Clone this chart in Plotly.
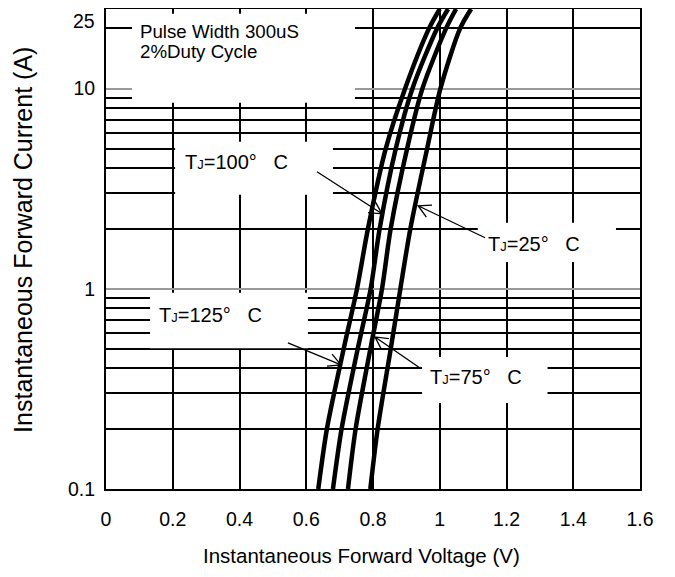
import numpy as np
import plotly.graph_objects as go

# ---------------- data ----------------
current_a = [0.1, 0.2, 0.5, 1, 2, 5, 10, 20, 25]
vf_125c = [0.636, 0.662, 0.712, 0.752, 0.785, 0.838, 0.896, 0.968, 1.000]
vf_100c = [0.680, 0.706, 0.754, 0.793, 0.820, 0.868, 0.918, 0.992, 1.025]
vf_75c = [0.725, 0.748, 0.792, 0.827, 0.853, 0.902, 0.948, 1.019, 1.049]
vf_25c = [0.792, 0.814, 0.853, 0.882, 0.912, 0.962, 1.002, 1.061, 1.094]

y_tick_vals = [0.1, 1, 10]
y_tick_text = ["0.1", "1", "10"]
y_top_label = "25"

# label texts
note_lines = ["Pulse Width 300uS", "2%Duty Cycle"]
curve_labels = ["100", "25", "125", "75"]

# ---------------- layout helpers ----------------
FONT = "Arial, 'Liberation Sans', sans-serif"
FS = 20

# white label boxes (V range, I range)
boxes = [
    ((0.078, 0.746), (8.5, 23.7)),
    ((0.207, 0.680), (2.95, 5.43)),
    ((1.114, 1.528), (1.36, 2.14)),
    ((0.132, 0.605), (0.505, 0.955)),
    ((0.947, 1.323), (0.269, 0.457)),
]
# label anchor (left V, log10 I center)
label_pos = [(0.231, 0.6325), (1.139, 0.225), (0.153, -0.133), (0.965, -0.4425)]
# arrow tip (V, I) and tail offset in screen px
arrow_tips = [(0.827, 2.37), (0.935, 2.60), (0.704, 0.417), (0.806, 0.575)]
arrow_tails = [(-65, -42), (67, 32), (-53, -22), (45, 31)]


def arrow_path(dx, dy, L=14.0, ang=28.0):
    n = np.hypot(dx, dy)
    ux, uy = dx / n, dy / n
    arms = []
    for s in (1, -1):
        a = np.radians(ang * s)
        rx = ux * np.cos(a) - uy * np.sin(a)
        ry = ux * np.sin(a) + uy * np.cos(a)
        arms.append((L * rx, L * ry))
    return (f"M {dx:.2f},{-dy:.2f} L 0,0 "
            f"M {arms[0][0]:.2f},{-arms[0][1]:.2f} L 0,0 L {arms[1][0]:.2f},{-arms[1][1]:.2f}")


fig = go.Figure()
for v in (vf_125c, vf_100c, vf_75c, vf_25c):
    fig.add_trace(go.Scatter(x=v, y=current_a, mode="lines",
                             line=dict(color="black", width=4.5, shape="spline", smoothing=0.8),
                             showlegend=False, hoverinfo="skip"))

shapes = []
for (x0, x1), (y0, y1) in boxes:
    shapes.append(dict(type="rect", xref="x", yref="y", x0=x0, x1=x1, y0=y0, y1=y1,
                       fillcolor="white", line=dict(width=0), layer="between"))
for (vx, iy), (dx, dy) in zip(arrow_tips, arrow_tails):
    shapes.append(dict(type="path", xref="x", yref="y", xsizemode="pixel", ysizemode="pixel",
                       xanchor=vx, yanchor=iy, path=arrow_path(dx, dy),
                       line=dict(color="black", width=1.3), layer="above"))

annotations = []
annotations.append(dict(x=0.096, y=1.2875, xref="x", yref="y", text=note_lines[0],
                        showarrow=False, xanchor="left", yanchor="middle",
                        font=dict(family=FONT, size=18.7, color="black")))
annotations.append(dict(x=0.096, y=1.185, xref="x", yref="y", text=note_lines[1],
                        showarrow=False, xanchor="left", yanchor="middle",
                        font=dict(family=FONT, size=18.7, color="black")))
for (lx, ly), t in zip(label_pos, curve_labels):
    annotations.append(dict(
        x=lx, y=ly, xref="x", yref="y",
        text=f"T<span style='font-size:13px'>J</span>={t}°\u00a0\u00a0\u00a0C",
        showarrow=False, xanchor="left", yanchor="middle",
        font=dict(family=FONT, size=FS, color="black")))
# top y tick label (kept inside the page)
annotations.append(dict(x=0, y=1, xref="paper", yref="paper", xshift=-9, yshift=1,
                        text=y_top_label, showarrow=False, xanchor="right", yanchor="top",
                        font=dict(family=FONT, size=19.5, color="black")))
# axis titles
annotations.append(dict(x=0.479, y=0, xref="paper", yref="paper", yshift=-66,
                        text="Instantaneous Forward Voltage (V)", showarrow=False,
                        xanchor="center", yanchor="middle",
                        font=dict(family=FONT, size=20.5, color="black")))
annotations.append(dict(x=0, y=0.519, xref="paper", yref="paper", xshift=-83,
                        text="Instantaneous Forward Current (A)", showarrow=False,
                        textangle=-90, xanchor="center", yanchor="middle",
                        font=dict(family=FONT, size=25, color="black")))

fig.update_layout(
    width=667, height=569,
    margin=dict(l=98, r=35, t=1, b=88, autoexpand=False),
    paper_bgcolor="white", plot_bgcolor="white",
    font=dict(family=FONT, size=FS, color="black"),
    shapes=shapes, annotations=annotations,
    xaxis=dict(range=[0, 1.6], dtick=0.2, tick0=0, showgrid=True, gridcolor="black",
               gridwidth=1.5, showline=True, linecolor="black", linewidth=2, mirror=True,
               ticks="", ticklabelstandoff=12, zeroline=False, automargin=False,
               tickfont=dict(family=FONT, size=19.5, color="black")),
    yaxis=dict(type="log", range=[-1, np.log10(25)], tickmode="array",
               tickvals=y_tick_vals, ticktext=y_tick_text,
               showgrid=True, gridcolor="#9a9a9a", gridwidth=1.5,
               minor=dict(dtick="D1", showgrid=True, gridcolor="black", gridwidth=1.8),
               showline=True, linecolor="black", linewidth=2, mirror=True,
               ticks="", ticklabelstandoff=5, zeroline=False, automargin=False,
               tickfont=dict(family=FONT, size=19.5, color="black")),
)

fig.write_html("out.html")
